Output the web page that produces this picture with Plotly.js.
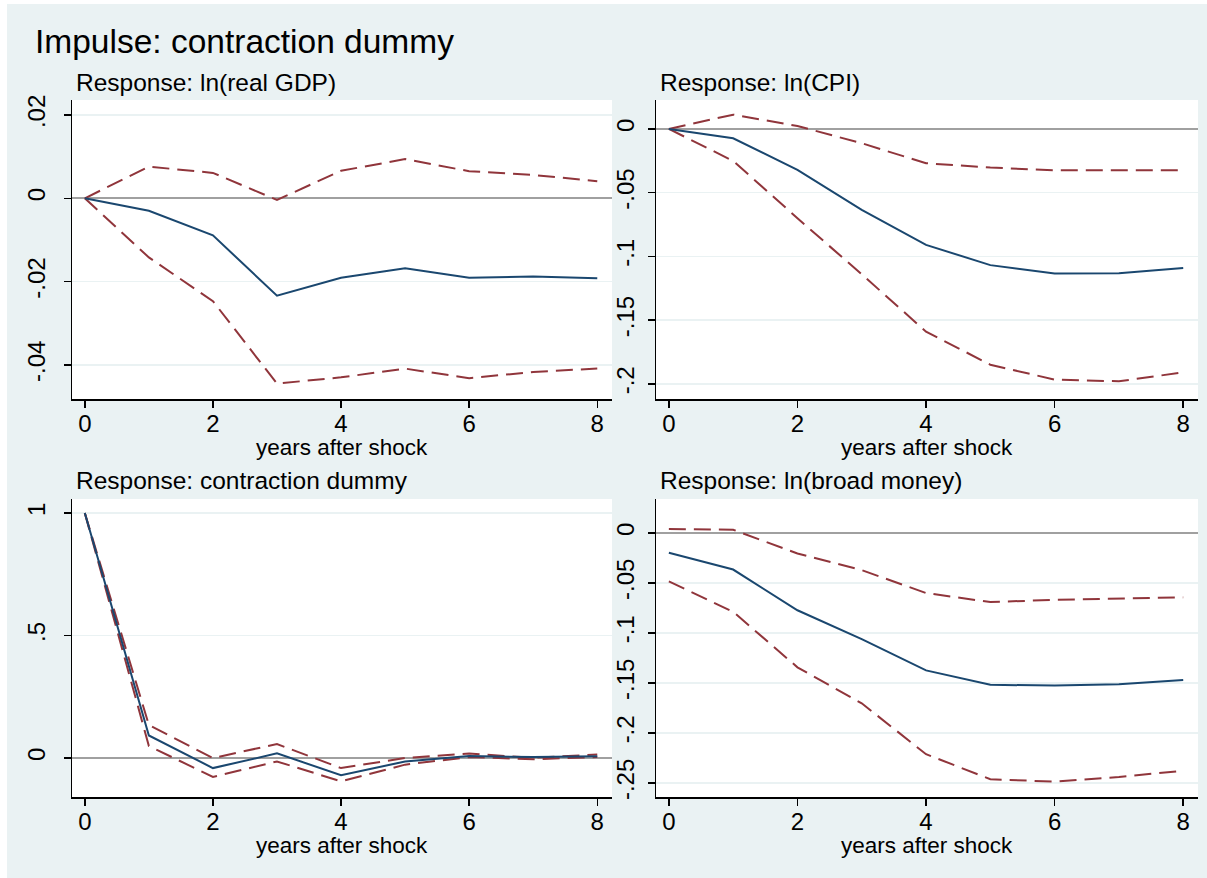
<!DOCTYPE html>
<html>
<head>
<meta charset="utf-8">
<script src="https://cdn.plot.ly/plotly-3.0.1.min.js"></script>
<style>
html,body{margin:0;padding:0;background:#ffffff;}
#chart{position:absolute;left:7px;top:4px;width:1200px;height:874px;}
</style>
</head>
<body>
<div id="chart"></div>
<script>
// Horizon (years after shock)
const years = [0, 1, 2, 3, 4, 5, 6, 7, 8];

// Response: ln(real GDP)
const gdpIrf   = [0, -0.0030, -0.0089, -0.0234, -0.0191, -0.0168, -0.0191, -0.0188, -0.0192];
const gdpUpper = [0, 0.0076, 0.0061, -0.0004, 0.0066, 0.0094, 0.0065, 0.0056, 0.0041];
const gdpLower = [0, -0.0142, -0.0247, -0.0445, -0.0430, -0.0409, -0.0432, -0.0417, -0.0409];

// Response: ln(CPI)
const cpiIrf   = [0, -0.0073, -0.0321, -0.0634, -0.0909, -0.1068, -0.1133, -0.1131, -0.1091];
const cpiUpper = [0, 0.0112, 0.0023, -0.0112, -0.0269, -0.0303, -0.0324, -0.0324, -0.0324];
const cpiLower = [0, -0.0251, -0.0700, -0.1140, -0.1590, -0.1849, -0.1966, -0.1979, -0.1909];

// Response: contraction dummy
const dumIrf   = [1, 0.092, -0.041, 0.019, -0.070, -0.014, 0.008, 0.004, 0.007];
const dumUpper = [1, 0.135, 0.000, 0.057, -0.041, 0.000, 0.018, 0.001, 0.014];
const dumLower = [1, 0.049, -0.077, -0.014, -0.095, -0.027, 0.004, -0.005, 0.004];

// Response: ln(broad money)
const bmIrf   = [-0.0200, -0.0367, -0.0774, -0.1062, -0.1375, -0.1519, -0.1526, -0.1513, -0.1472];
const bmUpper = [0.0038, 0.0031, -0.0207, -0.0373, -0.0602, -0.0692, -0.0670, -0.0658, -0.0645];
const bmLower = [-0.0486, -0.0789, -0.1344, -0.1704, -0.2212, -0.2462, -0.2487, -0.2440, -0.2378];

// Tick labels
const xTicks = [0, 2, 4, 6, 8];
const xTickText = ["0", "2", "4", "6", "8"];
const gdpTicks = [-0.04, -0.02, 0, 0.02];
const gdpTickText = ["-.04", "-.02", "0", ".02"];
const cpiTicks = [-0.2, -0.15, -0.1, -0.05, 0];
const cpiTickText = ["-.2", "-.15", "-.1", "-.05", "0"];
const dumTicks = [0, 0.5, 1];
const dumTickText = ["0", ".5", "1"];
const bmTicks = [-0.25, -0.2, -0.15, -0.1, -0.05, 0];
const bmTickText = ["-.25", "-.2", "-.15", "-.1", "-.05", "0"];

const titles = ["Response: ln(real GDP)", "Response: ln(CPI)", "Response: contraction dummy", "Response: ln(broad money)"];
const mainTitle = "Impulse: contraction dummy";
const xTitle = "years after shock";

const NAVY = "#1a476f";
const MAROON = "#90353b";
const FONT = "Liberation Sans, Arial, sans-serif";

const W = 1200, H = 874;
const panels = [
  {irf: gdpIrf, up: gdpUpper, lo: gdpLower, ticks: gdpTicks, tt: gdpTickText, range: [-0.0482, 0.0236], px: [65, 605], py: [96, 395], so: 9},
  {irf: cpiIrf, up: cpiUpper, lo: cpiLower, ticks: cpiTicks, tt: cpiTickText, range: [-0.2118, 0.0227], px: [649, 1191], py: [96, 395], so: 4},
  {irf: dumIrf, up: dumUpper, lo: dumLower, ticks: dumTicks, tt: dumTickText, range: [-0.159, 1.057], px: [65, 605], py: [495, 793], so: 9},
  {irf: bmIrf, up: bmUpper, lo: bmLower, ticks: bmTicks, tt: bmTickText, range: [-0.264, 0.0338], px: [649, 1191], py: [495, 793], so: 4}
];

const data = [];
const layout = {
  width: W, height: H,
  margin: {l: 0, r: 0, t: 0, b: 0},
  paper_bgcolor: "#eaf2f3",
  plot_bgcolor: "#ffffff",
  showlegend: false,
  font: {family: FONT, color: "#000000", size: 22},
  annotations: [],
  shapes: []
};

layout.annotations.push({
  text: mainTitle, xref: "paper", yref: "paper",
  x: 26 / W, y: 1 - 38 / H, xanchor: "left", yanchor: "middle",
  showarrow: false, font: {family: FONT, size: 33.5, color: "#000000"}
});

panels.forEach((p, i) => {
  const n = i + 1;
  const xa = "x" + (n === 1 ? "" : n);
  const ya = "y" + (n === 1 ? "" : n);
  const xk = "xaxis" + (n === 1 ? "" : n);
  const yk = "yaxis" + (n === 1 ? "" : n);
  data.push({x: years, y: p.up, xaxis: xa, yaxis: ya, mode: "lines", line: {color: MAROON, width: 2, dash: "17px,8px"}, hoverinfo: "skip"});
  data.push({x: years, y: p.lo, xaxis: xa, yaxis: ya, mode: "lines", line: {color: MAROON, width: 2, dash: "17px,8px"}, hoverinfo: "skip"});
  data.push({x: years, y: p.irf, xaxis: xa, yaxis: ya, mode: "lines", line: {color: NAVY, width: 2}, hoverinfo: "skip"});

  layout[xk] = {
    domain: [p.px[0] / W, p.px[1] / W],
    anchor: ya,
    range: [-0.2, 8.23],
    tickvals: xTicks, ticktext: xTickText,
    ticks: "outside", ticklen: 7, tickwidth: 1.5, tickcolor: "#000000",
    ticklabelstandoff: -4,
    showgrid: false, zeroline: false,
    showline: true, linecolor: "#000000", linewidth: 1.5,
    tickfont: {family: FONT, size: 24, color: "#000000"}
  };
  layout[yk] = {
    domain: [1 - p.py[1] / H, 1 - p.py[0] / H],
    anchor: xa,
    range: p.range,
    tickvals: p.ticks, ticktext: p.tt,
    tickangle: -90,
    ticks: "outside", ticklen: 7, tickwidth: 1.5, tickcolor: "#000000",
    ticklabelstandoff: p.so,
    showgrid: true, gridcolor: "#eaf2f3", gridwidth: 1.5,
    zeroline: true, zerolinecolor: "#a0a0a0", zerolinewidth: 2,
    showline: true, linecolor: "#000000", linewidth: 1.5,
    tickfont: {family: FONT, size: 24, color: "#000000"}
  };
  layout.annotations.push({
    text: titles[i], xref: "paper", yref: "paper",
    x: (p.px[0] + 2) / W, y: 1 - (p.py[0] - 18) / H,
    xanchor: "left", yanchor: "middle", showarrow: false,
    font: {family: FONT, size: 24.5, color: "#000000"}
  });
  layout.annotations.push({
    text: xTitle, xref: "paper", yref: "paper",
    x: (p.px[0] + p.px[1]) / 2 / W, y: 1 - (p.py[1] + 48) / H,
    xanchor: "center", yanchor: "middle", showarrow: false,
    font: {family: FONT, size: 22.5, color: "#000000"}
  });
});

Plotly.newPlot("chart", data, layout, {displayModeBar: false, staticPlot: true});
</script>
</body>
</html>
